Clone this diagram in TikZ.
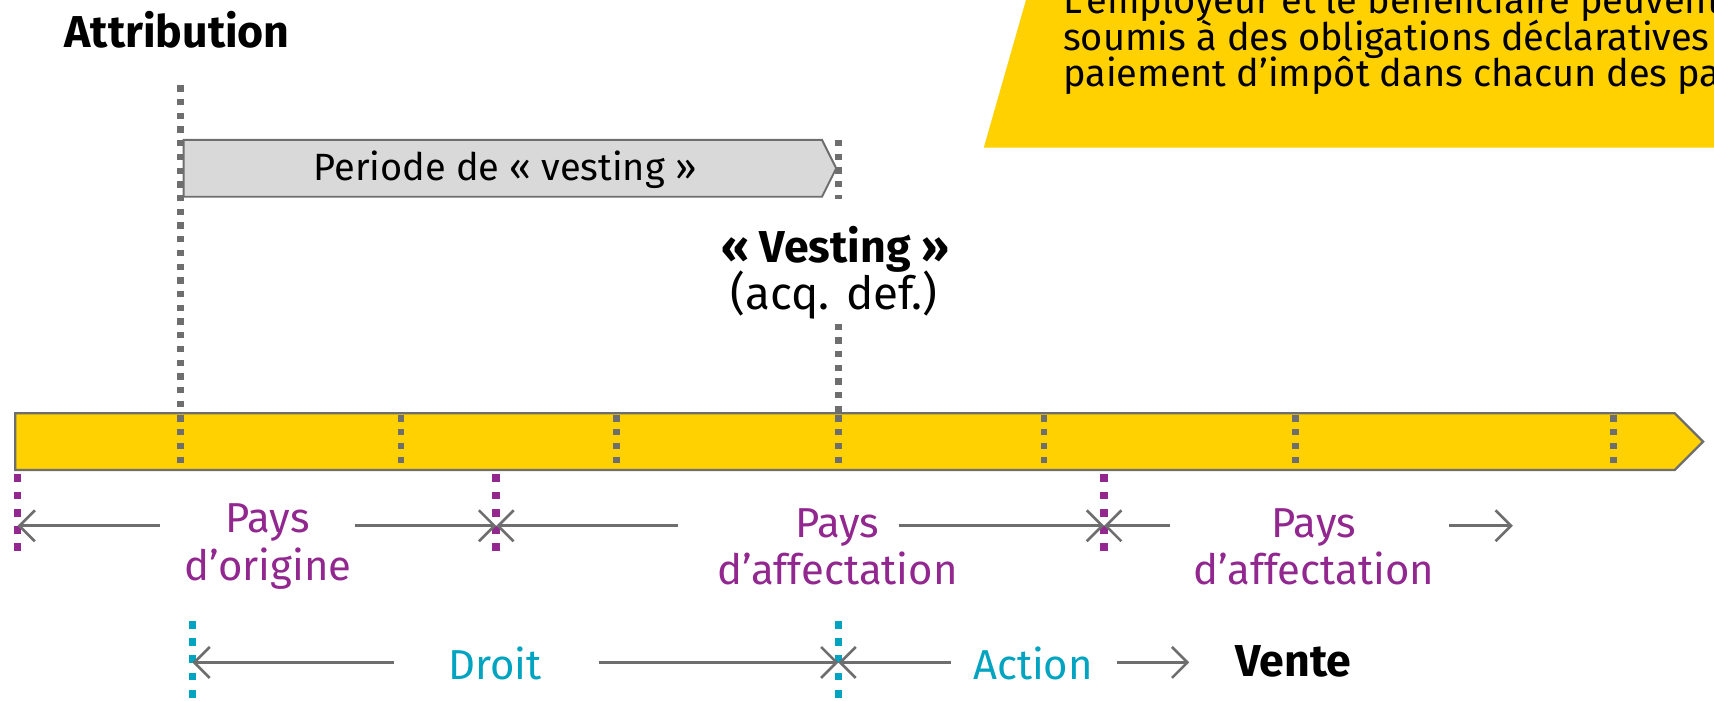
\documentclass[tikz,border=0pt]{standalone}
\usepackage{fontspec}
\setmainfont{Fira Sans}
\usetikzlibrary{arrows.meta}
\definecolor{eyyellow}{HTML}{FFD100}
\definecolor{edgegray}{HTML}{6E6E6E}
\definecolor{boxgray}{HTML}{D9D9D9}
\definecolor{eypurple}{HTML}{91278F}
\definecolor{eyteal}{HTML}{00A3C0}
\tikzset{
	lbl/.style={font=\fontsize{11.9pt}{13.4pt}\selectfont, align=center, inner sep=0pt},
	boldlbl/.style={font=\fontsize{12.7pt}{14pt}\selectfont\bfseries, align=center, inner sep=0pt},
	notetext/.style={font=\fontsize{10.8pt}{10.3pt}\selectfont, inner sep=0pt, anchor=base west},
	graydots/.style={draw=edgegray, line width=1.8pt, dash pattern=on 1.8pt off 2.1pt},
	purpledots/.style={draw=eypurple, line width=2.2pt, dash pattern=on 2.2pt off 2.7pt},
	tealdots/.style={draw=eyteal, line width=2.2pt, dash pattern=on 2.2pt off 2.7pt},
	span/.style={draw=edgegray, line width=0.75pt, -{Straight Barb[length=4.4pt,width=8.8pt,line width=0.75pt]}}
}
\newcommand{\Tick}[1]{
	\draw[graydots] (#1,380) -- (#1,430);
}
\newcommand{\Border}[4]{
	\draw[#2] (#1,#3) -- (#1,#4);
}
\begin{document}
\begin{tikzpicture}[x=0.01093cm, y=-0.01093cm]
	\useasboundingbox (0,0) rectangle (1568,641);
	\begin{scope}
		\clip (0,0) rectangle (1568,641);
		\fill[eyyellow] (940,-5) -- (1575,-5) -- (1575,135) -- (900,135) -- cycle;
		\node[notetext] (note1) at (972,12) {L’employeur et le bénéficiaire peuvent être};
		\node[notetext] (note2) at (972,46) {soumis à des obligations déclaratives et};
		\node[notetext] (note3) at (972,79) {paiement d’impôt dans chacun des pays};
	\end{scope}
	\node[boldlbl] (attrib) at (162,27) {Attribution};
	\draw[graydots] (165,78) -- (165,430);
	\draw[edgegray, fill=boxgray, line width=0.55pt] (168,128) -- (752,128) -- (765,154) -- (752,180) -- (168,180) -- cycle;
	\node[lbl, font=\fontsize{10.8pt}{12pt}\selectfont] (period) at (462,155) {Periode de « vesting »};
	\draw[graydots] (767,128) -- (767,182);
	\node[boldlbl] (vest) at (764,228) {« Vesting »};
	\node[lbl, font=\fontsize{13pt}{14pt}\selectfont] (acq) at (763,270) {(acq. def.)};
	\draw[graydots] (767,296) -- (767,430);
	\draw[edgegray, fill=eyyellow, line width=0.65pt] (14,378) -- (1532,378) -- (1558,404) -- (1532,430) -- (14,430) -- cycle;
	\foreach \x in {165,367,564,767,955,1185,1476}{
		\Tick{\x}
	}
	\Border{16}{purpledots}{434}{512}
	\Border{454}{purpledots}{434}{512}
	\Border{1010}{purpledots}{434}{512}
	\Border{176}{tealdots}{568}{645}
	\Border{767}{tealdots}{568}{645}
	\coordinate (o0) at (16,481);
	\coordinate (o1) at (454,481);
	\coordinate (o2) at (1010,481);
	\coordinate (o3) at (1384,481);
	\coordinate (d0) at (176,606);
	\coordinate (d1) at (767,606);
	\coordinate (d2) at (1088,606);
	\node[lbl, text=eypurple] (origin) at (245,500) {Pays\\d’origine};
	\node[lbl, text=eypurple] (host1) at (766,500) {Pays\\d’affectation};
	\node[lbl, text=eypurple] (host2) at (1202,500) {Pays\\d’affectation};
	\draw[span] (146,481) -- (o0);
	\draw[span] (325,481) -- (o1);
	\draw[span] (620,481) -- (o1);
	\draw[span] (822,481) -- (o2);
	\draw[span] (1070,481) -- (o2);
	\draw[span] (1326,481) -- (o3);
	\node[lbl, text=eyteal] (right) at (453,607) {Droit};
	\node[lbl, text=eyteal] (share) at (945,607) {Action};
	\node[boldlbl] (sale) at (1183,605) {Vente};
	\draw[span] (360,606) -- (d0);
	\draw[span] (548,606) -- (d1);
	\draw[span] (870,606) -- (d1);
	\draw[span] (1022,606) -- (d2);
\end{tikzpicture}
\end{document}
